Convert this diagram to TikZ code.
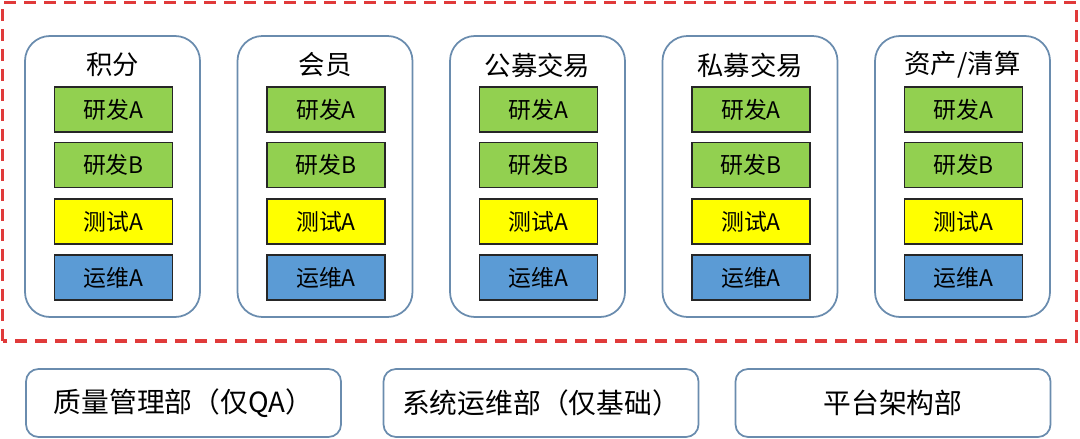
\documentclass[tikz,border=0pt]{standalone}
\usepackage{fontspec}
\setmainfont{Noto Sans CJK SC}
\definecolor{frame}{HTML}{6A8CAE}
\definecolor{dashred}{HTML}{E03A3A}
\definecolor{devgreen}{HTML}{92D050}
\definecolor{testyellow}{HTML}{FFFF00}
\definecolor{opsblue}{HTML}{5B9BD5}
\begin{document}
\begin{tikzpicture}[
  grp/.style={draw=frame,line width=1pt,rounded corners=0.5cm,minimum width=3.5cm,minimum height=5.62cm},
  role/.style={draw=black!85,line width=0.9pt,minimum width=2.36cm,minimum height=0.9cm,inner sep=0pt,font=\fontsize{13}{14}\selectfont},
  dept/.style={draw=frame,line width=1pt,rounded corners=0.25cm,minimum width=6.3cm,minimum height=1.36cm,font=\fontsize{15.8}{17}\selectfont}]
  \useasboundingbox (0,0) rectangle (21.6,8.78);
  \draw[dashred,line width=2.2pt,dash pattern=on 0.24cm off 0.16cm] (0.05,1.96) rectangle (21.53,8.73);
  % one column per business line
  \foreach \i/\name in {0/积分,1/会员,2/公募交易,3/私募交易,4/资产\slash 清算} {
    \node[grp] (col\i) at ({2.25+4.25*\i},5.25) {};
    \node[font=\fontsize{15}{16}\selectfont] (title\i) at ({2.25+4.25*\i},7.48) {\name};
    \node[role,fill=devgreen] (devA\i) at ({2.27+4.25*\i},6.59) {研发A};
    \node[role,fill=devgreen] (devB\i) at ({2.27+4.25*\i},5.48) {研发B};
    \node[role,fill=testyellow] (test\i) at ({2.27+4.25*\i},4.35) {测试A};
    \node[role,fill=opsblue] (ops\i) at ({2.27+4.25*\i},3.23) {运维A};
  }
  % shared departments
  \node[dept] (qa) at (3.67,0.72) {质量管理部（仅QA）};
  \node[dept] (sysops) at (10.82,0.72) {系统运维部（仅基础）};
  \node[dept] (arch) at (17.86,0.72) {平台架构部};
\end{tikzpicture}
\end{document}
